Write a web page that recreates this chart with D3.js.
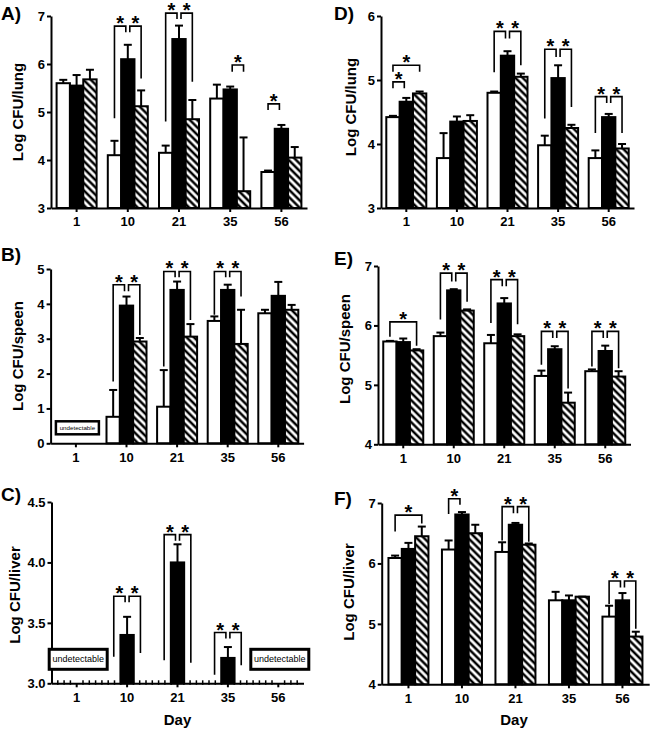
<!DOCTYPE html>
<html><head><meta charset="utf-8">
<script src="https://cdn.jsdelivr.net/npm/d3@7"></script>
<style>body{margin:0;background:#fff} svg{display:block}</style>
</head><body><svg id="chart" width="650" height="729"></svg>
<script>
// ---------- DATA ----------
const days = ["1","10","21","35","56"];
const groups = ["open","solid","hatched"];

// Panel A: Log CFU/lung (left)
const ticksA = [3,4,5,6,7];
const meanA = [[5.60,5.55,5.68],[4.10,6.10,5.12],[4.15,6.52,4.85],[5.28,5.47,3.35],[3.75,4.65,4.05]];
const errA  = [[5.67,5.77,5.88],[4.40,6.40,5.45],[4.30,6.80,5.25],[5.57,5.53,4.47],[3.78,4.73,4.27]];
// [dayIndex, fromBar, toBar, topValue, leftLegEnd, rightLegEnd]
const sigA = [[1,0,1,6.79,4.87,6.66],[1,1,2,6.79,6.66,5.70],[2,0,1,7.06,4.80,6.94],[2,1,2,7.06,6.94,5.63],[3,1,2,5.98,5.84,5.84],[4,0,1,5.17,5.04,5.04]];

// Panel B: Log CFU/speen (left)
const ticksB = [0,1,2,3,4,5];
const meanB = [[null,null,null],[0.76,3.95,2.92],[1.05,4.40,3.06],[3.51,4.40,2.85],[3.73,4.23,3.83]];
const errB  = [[null,null,null],[1.53,4.21,3.02],[2.10,4.64,3.42],[3.64,4.55,3.83],[3.83,4.63,3.97]];
const sigB = [[1,0,1,4.55,1.77,4.36],[1,1,2,4.55,4.36,3.11],[2,0,1,4.93,2.20,4.76],[2,1,2,4.93,4.76,3.54],[3,0,1,4.93,3.69,4.76],[3,1,2,4.93,4.76,4.21]];
const undetB = ["1"];

// Panel C: Log CFU/liver (left)
const ticksC = [3.0,3.5,4.0,4.5];
const meanC = [[null,null,null],[null,3.40,null],[null,4.00,null],[null,3.21,null],[null,null,null]];
const errC  = [[null,null,null],[null,3.55,null],[null,4.15,null],[null,3.30,null],[null,null,null]];
const sigC = [[1,0,1,3.72,3.22,3.67],[1,1,2,3.72,3.67,3.25],[2,0,1,4.23,3.19,4.18],[2,1,2,4.23,4.18,3.17],[3,0,1,3.42,3.07,3.37],[3,1,2,3.42,3.37,3.15]];
const undetC = ["1","56"];

// Panel D: Log CFU/lung (right)
const ticksD = [3,4,5,6];
const meanD = [[4.42,4.66,4.79],[3.78,4.35,4.36],[4.80,5.38,5.05],[3.98,5.03,4.25],[3.78,4.42,3.93]];
const errD  = [[4.44,4.72,4.82],[4.17,4.43,4.45],[4.82,5.45,5.10],[4.13,5.23,4.30],[3.90,4.47,4.00]];
const sigD = [[0,0,1,4.97,4.87,4.87],[0,0,2,5.23,5.13,5.13],[2,0,1,5.76,5.12,5.65],[2,1,2,5.76,5.65,5.23],[3,0,1,5.48,4.40,5.36],[3,1,2,5.48,5.36,4.58],[4,0,1,4.74,4.17,4.64],[4,1,2,4.74,4.64,4.17]];

// Panel E: Log CFU/speen (right)
const ticksE = [4,5,6,7];
const meanE = [[5.73,5.72,5.58],[5.82,6.59,6.25],[5.70,6.37,5.82],[5.15,5.60,4.70],[5.23,5.57,5.14]];
const errE  = [[5.74,5.78,5.60],[5.88,6.61,6.27],[5.84,6.46,5.85],[5.24,5.65,4.87],[5.26,5.66,5.23]];
const sigE = [[0,0,2,6.06,5.81,5.66],[1,0,1,6.88,6.10,6.74],[1,1,2,6.88,6.74,6.40],[2,0,1,6.77,6.04,6.66],[2,1,2,6.77,6.66,6.02],[3,0,1,5.90,5.34,5.79],[3,1,2,5.90,5.79,4.94],[4,0,1,5.90,5.31,5.79],[4,1,2,5.90,5.79,5.28]];

// Panel F: Log CFU/liver (right)
const ticksF = [4,5,6,7];
const meanF = [[6.09,6.24,6.45],[6.23,6.81,6.50],[6.19,6.64,6.31],[5.39,5.39,5.45],[5.12,5.39,4.79]];
const errF  = [[6.13,6.34,6.61],[6.38,6.85,6.64],[6.35,6.67,6.33],[5.53,5.47,5.45],[5.30,5.51,4.87]];
const sigF = [[0,0,2,6.80,6.53,6.66],[1,0,1,7.07,6.82,6.97],[2,0,1,6.94,6.38,6.83],[2,1,2,6.94,6.83,6.36],[4,0,1,5.71,5.33,5.60],[4,1,2,5.71,5.60,4.92]];

// ---------- LAYOUT ----------
const FONT = "'Liberation Sans', Arial, Helvetica, sans-serif";
const panels = [
  {means:meanA, errs:errA, sigs:sigA, ticks:ticksA, fmt:"d",  undet:[],     x0:51,   step:51.2, yTop:16,  yBot:208,   title:"Log CFU/lung",  tx:17.5, ty:112, tag:"A)", tagX:1,   tagY:20},
  {means:meanB, errs:errB, sigs:sigB, ticks:ticksB, fmt:"d",  undet:undetB, x0:50.6, step:50.6, yTop:269, yBot:443.3, title:"Log CFU/speen", tx:17.5, ty:356, tag:"B)", tagX:1,   tagY:261, box:{w:43,top:22,bot:9,sw:2.5,fs:6.2}},
  {means:meanC, errs:errC, sigs:sigC, ticks:ticksC, fmt:".1f",undet:undetC, x0:51.5, step:50.4, yTop:502, yBot:683.3, title:"Log CFU/liver", tx:14.5, ty:595, tag:"C)", tagX:1,   tagY:501, box:{w:58,top:34,bot:14,sw:3,fs:9}, minor:true, xtitle:"Day", xtx:177.5},
  {means:meanD, errs:errD, sigs:sigD, ticks:ticksD, fmt:"d",  undet:[],     x0:381,  step:50.6, yTop:16,  yBot:208,   title:"Log CFU/lung",  tx:350,  ty:107, tag:"D)", tagX:334, tagY:20},
  {means:meanE, errs:errE, sigs:sigE, ticks:ticksE, fmt:"d",  undet:[],     x0:378,  step:50.5, yTop:266, yBot:444.3, title:"Log CFU/speen", tx:344,  ty:349, tag:"E)", tagX:334, tagY:265},
  {means:meanF, errs:errF, sigs:sigF, ticks:ticksF, fmt:"d",  undet:[],     x0:381.7,step:53.5, yTop:503, yBot:684.3, title:"Log CFU/liver", tx:348,  ty:592, tag:"F)", tagX:334, tagY:505, xtitle:"Day", xtx:514}
];

const svg = d3.select("#chart");
const defs = svg.append("defs");
const P = 5.2;
const pat = defs.append("pattern").attr("id","hatch").attr("patternUnits","userSpaceOnUse")
  .attr("width",P).attr("height",P).attr("patternTransform","rotate(45)");
pat.append("rect").attr("width",P).attr("height",P).attr("fill","#fff");
pat.append("line").attr("x1",-1).attr("x2",P+1).attr("y1",P/2).attr("y2",P/2).attr("stroke","#000").attr("stroke-width",2.5);

const fills = ["#fff","#000","url(#hatch)"];

panels.forEach(p => {
  const g = svg.append("g");
  const x = d3.scaleBand().domain(days).range([p.x0, p.x0 + p.step*days.length]).paddingInner(0).paddingOuter(0);
  const inner = d3.scaleBand().domain(d3.range(groups.length)).range([-20,20]).padding(0);
  const bw = inner.bandwidth();
  const y = d3.scaleLinear().domain(d3.extent(p.ticks)).range([p.yBot, p.yTop]);
  const cx = (di, gi) => x(days[di]) + x.bandwidth()/2 + inner(gi) + bw/2;

  // bars
  p.means.forEach((row, di) => row.forEach((v, gi) => {
    if (v == null) return;
    g.append("rect").attr("x", cx(di,gi) - bw/2).attr("width", bw)
      .attr("y", y(v)).attr("height", p.yBot - y(v))
      .attr("fill", fills[gi]).attr("stroke","#000").attr("stroke-width",2);
  }));
  // error bars
  p.errs.forEach((row, di) => row.forEach((e, gi) => {
    if (e == null) return;
    const v = p.means[di][gi];
    const c = cx(di,gi);
    g.append("line").attr("x1",c).attr("x2",c).attr("y1",y(v)).attr("y2",y(e)).attr("stroke","#000").attr("stroke-width",2);
    g.append("line").attr("x1",c-4).attr("x2",c+4).attr("y1",y(e)).attr("y2",y(e)).attr("stroke","#000").attr("stroke-width",2);
  }));

  // axes
  const ya = d3.axisLeft(y).tickValues(p.ticks).tickFormat(d3.format(p.fmt)).tickSize(4).tickSizeOuter(0).tickPadding(2);
  const yg = g.append("g").attr("transform",`translate(${p.x0},0)`).call(ya);
  const xa = d3.axisBottom(x).tickSize(4).tickSizeOuter(0).tickPadding(5);
  const xg = g.append("g").attr("transform",`translate(0,${p.yBot})`).call(xa);
  [yg,xg].forEach(a => {
    a.selectAll("path,line").attr("stroke","#000").attr("stroke-width",2);
    a.selectAll("text").attr("font-family",FONT).attr("font-size",13).attr("font-weight","bold").attr("fill","#000");
  });
  if (p.minor) {
    const n = days.length*8;
    d3.range(1, n).filter(k => k % 8 !== 4).forEach(k => {
      const xx = p.x0 + k*p.step/8;
      g.append("line").attr("x1",xx).attr("x2",xx).attr("y1",p.yBot-3).attr("y2",p.yBot+1.5).attr("stroke","#000").attr("stroke-width",1.5);
    });
  }

  // undetectable boxes
  p.undet.forEach(d => {
    const c = x(d) + x.bandwidth()/2 + 1.5;
    const b = p.box;
    g.append("rect").attr("x", c - b.w/2).attr("y", p.yBot - b.top).attr("width", b.w).attr("height", b.top - b.bot)
      .attr("fill","#fff").attr("stroke","#000").attr("stroke-width",b.sw);
    g.append("text").attr("x",c).attr("y",p.yBot - (b.top+b.bot)/2).attr("text-anchor","middle").attr("dominant-baseline","central")
      .attr("font-family",FONT).attr("font-size",b.fs).text("undetectable");
  });

  // significance brackets
  p.sigs.forEach(s => {
    const [di,a,b,top,l,r] = s;
    const x1 = cx(di,a) + (a===1 ? 2 : 0);
    const x2 = cx(di,b) - (b===1 ? 2 : 0);
    g.append("path").attr("d",`M${x1},${y(l)}V${y(top)}H${x2}V${y(r)}`)
      .attr("fill","none").attr("stroke","#000").attr("stroke-width",1.6);
    g.append("text").attr("x",(x1+x2)/2).attr("y",y(top)+4).attr("text-anchor","middle")
      .attr("font-family",FONT).attr("font-size",20).attr("font-weight","bold").text("*");
  });

  // titles
  g.append("text").attr("transform",`translate(${p.tx},${p.ty}) rotate(-90)`).attr("text-anchor","middle")
    .attr("dominant-baseline","central").attr("font-family",FONT).attr("font-size",15).attr("font-weight","bold").text(p.title);
  g.append("text").attr("x",p.tagX).attr("y",p.tagY).attr("font-family",FONT).attr("font-size",19)
    .attr("font-weight","bold").text(p.tag);
  if (p.xtitle) {
    g.append("text").attr("x",p.xtx).attr("y",725).attr("text-anchor","middle")
      .attr("font-family",FONT).attr("font-size",15).attr("font-weight","bold").text(p.xtitle);
  }
});
</script></body></html>
